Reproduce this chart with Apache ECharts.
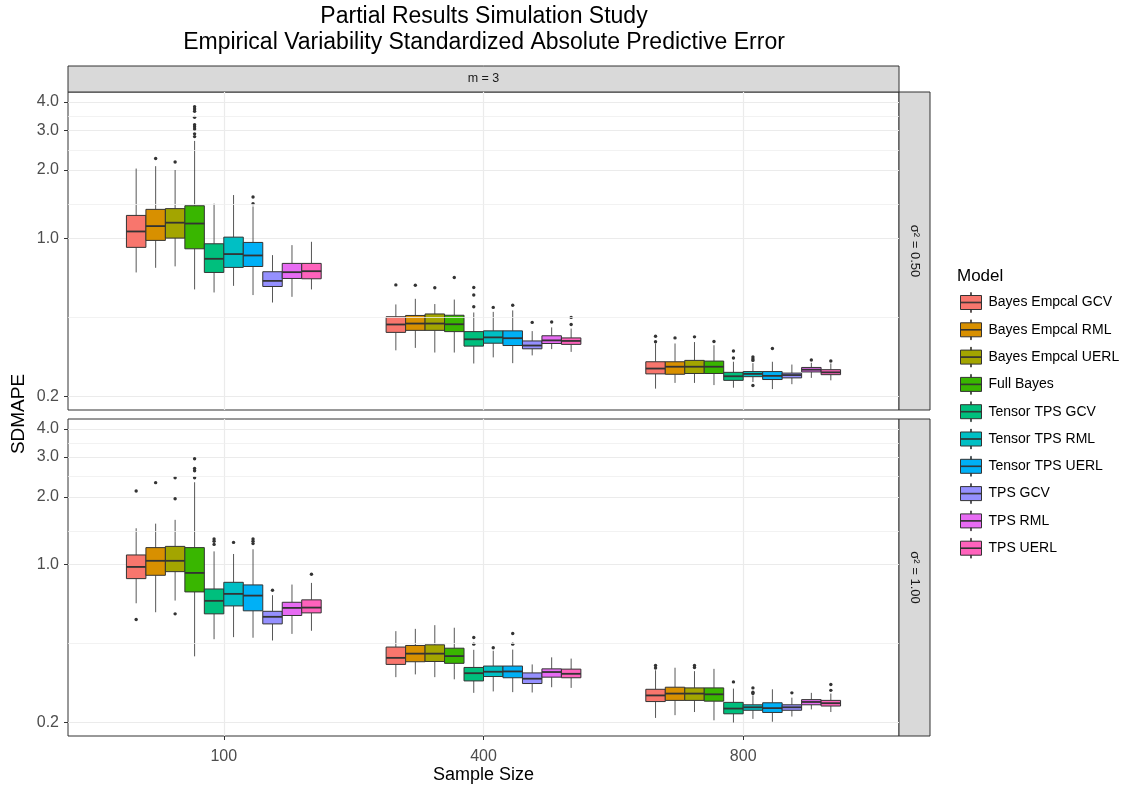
<!DOCTYPE html>
<html>
<head>
<meta charset="utf-8">
<script src="https://cdn.jsdelivr.net/npm/echarts@6/dist/echarts.min.js"></script>
<style>
  html, body { margin: 0; padding: 0; background: #fff; }
  #chart { width: 1121px; height: 787px; }
</style>
</head>
<body>
<div id="chart"></div>
<script>
// models (fill order of the boxes inside each sample size)
const models = ['Bayes Empcal GCV', 'Bayes Empcal RML', 'Bayes Empcal UERL', 'Full Bayes',
  'Tensor TPS GCV', 'Tensor TPS RML', 'Tensor TPS UERL', 'TPS GCV', 'TPS RML', 'TPS UERL'];
const modelColors = ['#F8766D', '#D89000', '#A3A500', '#39B600', '#00BF7D',
  '#00BFC4', '#00B0F6', '#9590FF', '#E76BF3', '#FF62BC'];
const sampleSizes = ['100', '400', '800'];
const yTicks = [0.2, 1, 2, 3, 4];
const panelLabels = ['σ² = 0.50', 'σ² = 1.00'];

// sigma^2 = 0.50 : one row per model, columns n = 100, 400, 800
const lowA = [[0.705, 0.319, 0.216], [0.739, 0.327, 0.229], [0.75, 0.312, 0.229], [0.593, 0.312, 0.224], [0.575, 0.279, 0.218],
  [0.615, 0.297, 0.231], [0.56, 0.28, 0.215], [0.519, 0.303, 0.226], [0.55, 0.323, 0.241], [0.593, 0.314, 0.235]];
const q1A = [[0.91, 0.383, 0.251], [0.977, 0.391, 0.25], [1.0, 0.391, 0.252], [0.897, 0.386, 0.252], [0.705, 0.333, 0.235],
  [0.742, 0.343, 0.244], [0.749, 0.335, 0.237], [0.611, 0.324, 0.241], [0.663, 0.342, 0.256], [0.661, 0.339, 0.249]];
const medA = [[1.07, 0.415, 0.265], [1.13, 0.419, 0.27], [1.17, 0.419, 0.27], [1.16, 0.416, 0.27], [0.81, 0.357, 0.245],
  [0.85, 0.364, 0.251], [0.838, 0.361, 0.246], [0.647, 0.335, 0.248], [0.707, 0.353, 0.262], [0.714, 0.351, 0.255]];
const q3A = [[1.26, 0.449, 0.284], [1.34, 0.455, 0.284], [1.35, 0.462, 0.288], [1.39, 0.456, 0.286], [0.944, 0.386, 0.255],
  [1.01, 0.389, 0.257], [0.957, 0.389, 0.257], [0.71, 0.351, 0.253], [0.773, 0.37, 0.268], [0.773, 0.362, 0.262]];
const highA = [[2.03, 0.509, 0.342], [2.08, 0.539, 0.342], [2.0, 0.511, 0.347], [2.69, 0.535, 0.336], [1.42, 0.469, 0.284],
  [1.55, 0.472, 0.28], [1.38, 0.479, 0.284], [0.841, 0.388, 0.276], [0.931, 0.403, 0.281], [0.963, 0.398, 0.279]];
const outA = [
  [[], [0.621], [0.368, 0.348]],
  [[2.25], [0.619], [0.362]],
  [[2.17], [0.603], [0.366]],
  [[3.81, 3.72, 3.64, 3.42, 3.17, 3.11, 3.04, 2.89, 2.81], [0.67], [0.349]],
  [[], [0.605, 0.56, 0.497], [0.317, 0.295]],
  [[], [0.494], [0.298, 0.292, 0.288, 0.223]],
  [[1.52, 1.42], [0.505], [0.325]],
  [[], [0.424], []],
  [[], [0.426], [0.289]],
  [[], [0.446, 0.415], [0.286]]
];

// sigma^2 = 1.00
const lowB = [[0.674, 0.317, 0.209], [0.615, 0.326, 0.215], [0.693, 0.317, 0.222], [0.392, 0.31, 0.204], [0.467, 0.27, 0.1995],
  [0.477, 0.274, 0.207], [0.474, 0.272, 0.201], [0.461, 0.271, 0.212], [0.493, 0.286, 0.228], [0.509, 0.284, 0.222]];
const q1B = [[0.867, 0.361, 0.247], [0.897, 0.371, 0.25], [0.931, 0.372, 0.25], [0.757, 0.365, 0.248], [0.605, 0.305, 0.218],
  [0.656, 0.319, 0.226], [0.624, 0.315, 0.221], [0.546, 0.297, 0.226], [0.595, 0.317, 0.239], [0.611, 0.315, 0.236]];
const medB = [[0.977, 0.386, 0.263], [1.04, 0.403, 0.268], [1.04, 0.403, 0.268], [0.919, 0.393, 0.266], [0.691, 0.33, 0.23],
  [0.742, 0.335, 0.233], [0.729, 0.336, 0.231], [0.587, 0.312, 0.233], [0.643, 0.334, 0.246], [0.645, 0.328, 0.243]];
const q3B = [[1.104, 0.431, 0.28], [1.19, 0.438, 0.286], [1.205, 0.441, 0.284], [1.19, 0.426, 0.284], [0.78, 0.35, 0.245],
  [0.835, 0.355, 0.239], [0.813, 0.355, 0.244], [0.621, 0.331, 0.239], [0.681, 0.345, 0.252], [0.698, 0.344, 0.25]];
const highB = [[1.45, 0.507, 0.34], [1.52, 0.519, 0.349], [1.58, 0.539, 0.337], [2.32, 0.525, 0.345], [1.145, 0.419, 0.282],
  [1.115, 0.415, 0.263], [1.17, 0.42, 0.28], [0.732, 0.361, 0.257], [0.816, 0.388, 0.27], [0.83, 0.383, 0.268]];
const outB = [
  [[2.12, 0.571], [], [0.357, 0.348]],
  [[2.31], [], []],
  [[2.43, 1.96, 0.605], [], [0.357, 0.35]],
  [[2.95, 2.67, 2.61, 2.43], [], []],
  [[1.3, 1.27, 1.23], [0.475, 0.444], [0.302]],
  [[1.255], [0.428], [0.284, 0.272, 0.268]],
  [[1.3, 1.27, 1.24], [0.495, 0.444], []],
  [[0.77], [], [0.27]],
  [[], [], []],
  [[0.906], [], [0.294, 0.277]]
];

const panels = [
  { low: lowA, q1: q1A, med: medA, q3: q3A, high: highA, out: outA },
  { low: lowB, q1: q1B, med: medB, q3: q3B, high: highB, out: outB }
];

const log10 = Math.log10;
const dodgeWidth = 0.075;   // 0.75 / 10 boxes
const font = '"Liberation Sans", Arial, sans-serif';
const gridTops = [92, 419];
const gridHeights = [318, 317];
const gridLeft = 68, gridRight = 899;

const tickLogs = yTicks.map(log10);
// minor gridlines half way between the breaks (in log space)
const minorLogs = tickLogs.slice(1).map((v, i) => (v + tickLogs[i]) / 2);

function boxRenderer(m, outliers) {
  return function (params, api) {
    const k = params.dataIndex;
    const xc = api.value(0) + (m - (models.length - 1) / 2) * dodgeWidth;
    const xl = api.coord([xc - dodgeWidth / 2, 0])[0];
    const xr = api.coord([xc + dodgeWidth / 2, 0])[0];
    const xm = api.coord([xc, 0])[0];
    const y = i => api.coord([xc, api.value(i)])[1];
    const yLo = y(1), yQ1 = y(2), yMed = y(3), yQ3 = y(4), yHi = y(5);
    const children = [
      { type: 'line', shape: { x1: xm, y1: yHi, x2: xm, y2: yQ3 }, style: { stroke: '#444', lineWidth: 0.9 } },
      { type: 'line', shape: { x1: xm, y1: yQ1, x2: xm, y2: yLo }, style: { stroke: '#444', lineWidth: 0.9 } },
      { type: 'rect', shape: { x: xl, y: yQ3, width: xr - xl, height: yQ1 - yQ3 },
        style: { fill: api.visual('color'), stroke: '#333', lineWidth: 1 } },
      { type: 'line', shape: { x1: xl, y1: yMed, x2: xr, y2: yMed }, style: { stroke: '#333', lineWidth: 1.8 } }
    ];
    outliers[m][k].forEach(v => {
      const p = api.coord([xc, log10(v)]);
      children.push({ type: 'circle', shape: { cx: p[0], cy: p[1], r: 1.7 }, style: { fill: '#333' } });
    });
    return { type: 'group', children: children };
  };
}

const grids = [], xAxes = [], yAxes = [], series = [];
panels.forEach((p, pi) => {
  const isBottom = pi === panels.length - 1;
  grids.push({
    left: gridLeft, width: gridRight - gridLeft, top: gridTops[pi], height: gridHeights[pi],
    show: true, borderColor: '#333', borderWidth: 1, backgroundColor: '#fff'
  });
  xAxes.push({
    type: 'value', gridIndex: pi, min: 0.4, max: 3.6,
    axisLine: { show: false, onZero: false },
    axisTick: { show: isBottom, length: 4, lineStyle: { color: '#333' }, customValues: [1, 2, 3] },
    axisLabel: {
      show: isBottom, customValues: [1, 2, 3], margin: 13, fontSize: 16, color: '#4D4D4D', fontFamily: font,
      formatter: v => sampleSizes[Math.round(v) - 1]
    },
    splitLine: { show: true, lineStyle: { color: '#EBEBEB', width: 1.2 } },
    name: isBottom ? 'Sample Size' : '', nameLocation: 'middle', nameGap: 29,
    nameTextStyle: { fontSize: 18, color: '#000', fontFamily: font }
  });
  yAxes.push({
    type: 'value', gridIndex: pi, min: -0.76, max: 0.646,
    axisLine: { show: false, onZero: false },
    axisTick: { show: true, length: 4, lineStyle: { color: '#333' }, customValues: tickLogs },
    axisLabel: {
      customValues: tickLogs, margin: 9, fontSize: 16, color: '#4D4D4D', fontFamily: font,
      formatter: v => Math.pow(10, v).toFixed(1)
    },
    splitLine: { show: true, lineStyle: { color: '#EBEBEB', width: 1.2 } }
  });
  // minor gridlines
  series.push({
    type: 'line', xAxisIndex: pi, yAxisIndex: pi, data: [], z: 1, silent: true,
    markLine: {
      silent: true, symbol: 'none', animation: false,
      label: { show: false },
      lineStyle: { color: '#EFEFEF', width: 0.8, type: 'solid' },
      data: minorLogs.map(v => ({ yAxis: v }))
    }
  });
  models.forEach((name, m) => {
    series.push({
      type: 'custom', name: name, xAxisIndex: pi, yAxisIndex: pi,
      itemStyle: { color: modelColors[m] },
      encode: { x: 0, y: [1, 2, 3, 4, 5] },
      renderItem: boxRenderer(m, p.out),
      z: 3,
      data: sampleSizes.map((s, k) => [k + 1, log10(p.low[m][k]), log10(p.q1[m][k]),
        log10(p.med[m][k]), log10(p.q3[m][k]), log10(p.high[m][k])])
    });
  });
});

const stripGraphics = [
  { type: 'rect', shape: { x: gridLeft, y: 66, width: gridRight - gridLeft, height: 26 },
    style: { fill: '#D9D9D9', stroke: '#333', lineWidth: 1 } },
  { type: 'text', x: (gridLeft + gridRight) / 2, y: 79,
    style: { text: 'm = 3', fontSize: 12.5, fill: '#1A1A1A', fontFamily: font, align: 'center', verticalAlign: 'middle' } }
];
panelLabels.forEach((label, pi) => {
  stripGraphics.push({ type: 'rect',
    shape: { x: gridRight, y: gridTops[pi], width: 31, height: gridHeights[pi] },
    style: { fill: '#D9D9D9', stroke: '#333', lineWidth: 1 } });
  stripGraphics.push({ type: 'text', x: gridRight + 15.5, y: gridTops[pi] + gridHeights[pi] / 2,
    rotation: -Math.PI / 2,
    style: { text: label, fontSize: 13, fill: '#1A1A1A', fontFamily: font, align: 'center', verticalAlign: 'middle' } });
});

const textGraphics = [
  { type: 'text', x: 484, y: 17,
    style: { text: 'Partial Results Simulation Study', fontSize: 23, fill: '#000', fontFamily: font, align: 'center', verticalAlign: 'middle' } },
  { type: 'text', x: 484, y: 43,
    style: { text: 'Empirical Variability Standardized Absolute Predictive Error', fontSize: 23, fill: '#000', fontFamily: font, align: 'center', verticalAlign: 'middle' } },
  { type: 'text', x: 19, y: 414, rotation: Math.PI / 2,
    style: { text: 'SDMAPE', fontSize: 19, fill: '#000', fontFamily: font, align: 'center', verticalAlign: 'middle' } },
  { type: 'text', x: 957, y: 276,
    style: { text: 'Model', fontSize: 17, fill: '#000', fontFamily: font, align: 'left', verticalAlign: 'middle' } }
];

// boxplot glyph for the legend keys
const keyIcon = 'path://M0 3L21 3L21 17L0 17Z M0 9.7L21 9.7L21 10.3L0 10.3Z M10.3 0L10.7 0L10.7 3L10.3 3Z M10.3 17L10.7 17L10.7 20L10.3 20Z';

const option = {
  animation: false,
  textStyle: { fontFamily: font },
  color: modelColors,
  grid: grids,
  xAxis: xAxes,
  yAxis: yAxes,
  legend: {
    data: models, orient: 'vertical', left: 960, top: 292, padding: 0,
    itemWidth: 21, itemHeight: 20, itemGap: 6.3, icon: keyIcon,
    itemStyle: { borderColor: '#333', borderWidth: 1 },
    textStyle: { fontSize: 14, color: '#000', fontFamily: font, padding: [0, 0, 0, 2], lineHeight: 18 }
  },
  graphic: stripGraphics.concat(textGraphics),
  series: series
};

const chart = echarts.init(document.getElementById('chart'), null, { renderer: 'canvas' });
chart.setOption(option);
</script>
</body>
</html>
